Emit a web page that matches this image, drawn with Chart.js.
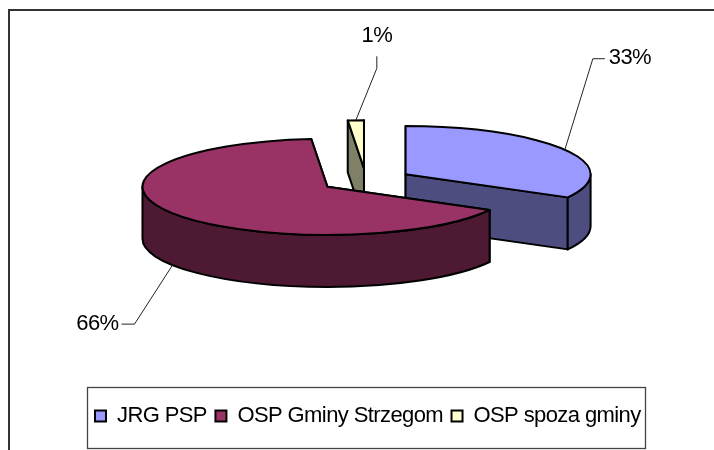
<!DOCTYPE html>
<html>
<head>
<meta charset="utf-8">
<script src="https://cdn.jsdelivr.net/npm/chart.js@4/dist/chart.umd.min.js"></script>
<style>html,body{margin:0;padding:0;background:#fff}#w{width:714px;height:450px}</style>
</head>
<body>
<div id="w"><canvas id="c" width="714" height="450"></canvas></div>
<script>
const categories = ['JRG PSP', 'OSP Gminy Strzegom', 'OSP spoza gminy'];
const shares = [33, 65.6, 1.4];
const topColors = ['#9999FF', '#993366', '#FFFFCC'];
const wallColors = ['#4D4D80', '#4D1933', '#808066'];
const drawOrder = [2, 0, 1];
const leaderElbows = [[28, -91, 12, 0], [-38, 59, -13, 0], [21, -52, 0, -12]];
const labelOffsets = [[4, -1, 'left'], [-3, 0, 'right'], [0, -20, 'center']];

const CX = 366, CY = 180.3, TILT = 0.26, DEPTH = 52, EXPLODE = 46;
const FONT = '22px "Liberation Sans", Arial, sans-serif';
const TRACK = '-0.6px';

function geom(arc) {
  const mid = (arc.startAngle + arc.endAngle) / 2;
  return {
    mid,
    x: CX + Math.cos(mid) * EXPLODE,
    y: CY + Math.sin(mid) * EXPLODE * TILT,
    r: arc.outerRadius
  };
}
function pt(g, a, dz) {
  return [g.x + g.r * Math.cos(a), g.y + g.r * TILT * Math.sin(a) + (dz || 0)];
}
function poly(ctx, pts, fill) {
  ctx.beginPath();
  pts.forEach((p, i) => i ? ctx.lineTo(p[0], p[1]) : ctx.moveTo(p[0], p[1]));
  ctx.closePath();
  ctx.fillStyle = fill;
  ctx.fill();
  ctx.stroke();
}
function ellipseArc(ctx, g, a0, a1, dz, ccw) {
  ctx.ellipse(g.x, g.y + dz, g.r, g.r * TILT, 0, a0, a1, !!ccw);
}
function drawSlice(ctx, arc, i) {
  const g = geom(arc), s = arc.startAngle, e = arc.endAngle;
  ctx.lineWidth = 2;
  ctx.lineJoin = 'round';
  ctx.strokeStyle = '#000';
  // cut faces
  [s, e].forEach(a => {
    const p = pt(g, a);
    poly(ctx, [[g.x, g.y], p, [p[0], p[1] + DEPTH], [g.x, g.y + DEPTH]], wallColors[i]);
  });
  // outer wall: front half of the rim only
  const TAU = Math.PI * 2;
  for (let k = -1; k <= 1; k++) {
    const a0 = Math.max(s, k * TAU), a1 = Math.min(e, k * TAU + Math.PI);
    if (a1 > a0) {
      ctx.beginPath();
      ellipseArc(ctx, g, a0, a1, 0);
      ellipseArc(ctx, g, a1, a0, DEPTH, true);
      ctx.closePath();
      ctx.fillStyle = wallColors[i];
      ctx.fill();
      ctx.stroke();
    }
  }
  // top face, filled by the library's own arc element
  ctx.save();
  ctx.translate(g.x, g.y);
  ctx.scale(1, TILT);
  ctx.translate(-arc.x, -arc.y);
  arc.draw(ctx);
  ctx.restore();
  ctx.beginPath();
  ctx.moveTo(g.x, g.y);
  ellipseArc(ctx, g, s, e, 0);
  ctx.closePath();
  ctx.stroke();
}
const pie3d = {
  id: 'pie3d',
  beforeLayout(chart) {
    chart.ctx.letterSpacing = TRACK;
  },
  afterLayout(chart) {
    const l = chart.legend;
    l.left = 95 - 8.5; l.right = 714; l.top = 396.5;
  },
  beforeDraw(chart) {
    const ctx = chart.ctx;
    ctx.letterSpacing = TRACK;
    ctx.save();
    ctx.strokeStyle = '#333';
    ctx.lineWidth = 2;
    ctx.beginPath();
    ctx.moveTo(9, 450); ctx.lineTo(9, 10); ctx.lineTo(714, 10);
    ctx.stroke();
    ctx.strokeStyle = '#444';
    ctx.lineWidth = 1.3;
    ctx.strokeRect(87.5, 387.5, 558, 61);
    ctx.restore();
  },
  beforeDatasetsDraw(chart) {
    const ctx = chart.ctx, arcs = chart.getDatasetMeta(0).data;
    ctx.save();
    drawOrder.forEach(i => drawSlice(ctx, arcs[i], i));
    // leader lines and percentage labels
    const total = shares.reduce((a, b) => a + b, 0);
    arcs.forEach((arc, i) => {
      const g = geom(arc), p = pt(g, g.mid, Math.sin(g.mid) > 0 && Math.cos(g.mid) < 0 ? DEPTH : 0);
      const [dx, dy, hx, hy] = leaderElbows[i];
      const q = [p[0] + dx, p[1] + dy], r = [q[0] + hx, q[1] + hy];
      ctx.strokeStyle = '#222';
      ctx.lineWidth = 1;
      ctx.beginPath();
      ctx.moveTo(p[0], p[1]); ctx.lineTo(q[0], q[1]); ctx.lineTo(r[0], r[1]);
      ctx.stroke();
      const [ox, oy, al] = labelOffsets[i];
      ctx.fillStyle = '#000';
      ctx.font = FONT;
      ctx.textAlign = al;
      ctx.textBaseline = 'middle';
      ctx.fillText(Math.round(shares[i] / total * 100) + '%', r[0] + ox, r[1] + oy);
    });
    ctx.restore();
    return false;
  }
};
new Chart(document.getElementById('c'), {
  type: 'pie',
  data: {
    labels: categories,
    datasets: [{ data: shares, backgroundColor: topColors, borderColor: '#000', borderWidth: 0 }]
  },
  plugins: [pie3d],
  options: {
    responsive: false,
    animation: false,
    radius: 185,
    layout: { padding: 0 },
    plugins: {
      tooltip: { enabled: false },
      title: { display: false },
      legend: {
        position: 'bottom',
        align: 'start',
        labels: {
          boxWidth: 11,
          boxHeight: 11,
          padding: 8.5,
          color: '#000',
          font: { family: '"Liberation Sans", Arial, sans-serif', size: 22 },
          generateLabels(chart) {
            return Chart.overrides.pie.plugins.legend.labels.generateLabels(chart)
              .map(item => Object.assign(item, { lineWidth: 2, strokeStyle: '#000' }));
          }
        }
      }
    }
  }
});
</script>
</body>
</html>
